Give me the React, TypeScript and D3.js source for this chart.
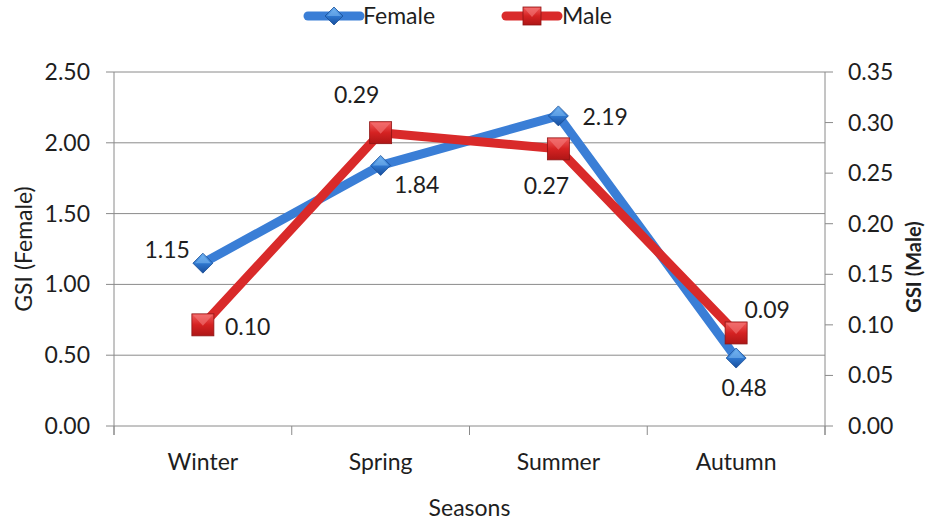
import React from "react";
import * as d3 from "d3";

// Seasonal gonadosomatic index, two series on separate y axes
const seasons = ["Winter", "Spring", "Summer", "Autumn"];
const femaleGSI = [1.15, 1.84, 2.19, 0.48];
const maleGSI = [0.1, 0.29, 0.274, 0.092];
const leftTicks = [0, 0.5, 1.0, 1.5, 2.0, 2.5];
const rightTicks = [0, 0.05, 0.1, 0.15, 0.2, 0.25, 0.3, 0.35];

// label placement relative to each marker: [dx, dy, anchor]
const femaleLabelPos: [number, number, string][] = [
  [-13, -13, "end"],
  [36, 19, "middle"],
  [24, 1, "start"],
  [8, 30, "middle"],
];
const maleLabelPos: [number, number, string][] = [
  [22, 2, "start"],
  [-24, -38, "middle"],
  [-12, 37, "middle"],
  [31, -23, "middle"],
];

const W = 930;
const H = 525;
const M = { left: 114, right: 825, top: 72, bottom: 426 };
const FONT = "Lato, 'Open Sans', sans-serif";
const FS = 23;
const BLUE = "#3A7ED6";
const RED = "#D92A2A";
const GRID = "#8A8A8A";
const INK = "#1e1e1e";

export default function App() {
  const x = d3.scaleBand<string>().domain(seasons).range([M.left, M.right]);
  const yL = d3.scaleLinear().domain([0, 2.5]).range([M.bottom, M.top]);
  const yR = d3.scaleLinear().domain([0, 0.35]).range([M.bottom, M.top]);
  const cx = (s: string) => (x(s) as number) + x.bandwidth() / 2;

  const lineF = d3
    .line<number>()
    .x((_, i) => cx(seasons[i]))
    .y((d) => yL(d));
  const lineM = d3
    .line<number>()
    .x((_, i) => cx(seasons[i]))
    .y((d) => yR(d));

  const diamond = (px: number, py: number, r = 10) =>
    `M${px},${py - r}L${px + r},${py}L${px},${py + r}L${px - r},${py}Z`;

  const Diamond = ({ px, py, r = 10 }: { px: number; py: number; r?: number }) => (
    <g>
      <path d={diamond(px, py, r)} fill="url(#diaGrad)" stroke="#1B4F97" strokeWidth={0.8} />
      <path
        d={`M${px},${py - r + 2}L${px + r - 2},${py}L${px - r + 2},${py}Z`}
        fill="#7FBCF2"
        opacity={0.55}
      />
    </g>
  );

  const Square = ({ px, py, s = 22 }: { px: number; py: number; s?: number }) => (
    <g>
      <rect x={px - s / 2} y={py - s / 2} width={s} height={s} fill="url(#sqGrad)" stroke="#8E1313" strokeWidth={0.8} />
      <path
        d={`M${px - s / 2 + 1},${py - s / 2 + 1}L${px + s / 2 - 1},${py - s / 2 + 1}L${px},${py + 1}Z`}
        fill="#F37A7A"
        opacity={0.6}
      />
    </g>
  );

  const bandTicks = seasons.map((s) => x(s) as number).concat([M.right]);

  return (
    <svg
      width={W}
      height={H}
      style={{ position: "absolute", left: 0, top: 0, background: "#fff" }}
      fontFamily={FONT}
    >
      <defs>
        <linearGradient id="diaGrad" x1="0" y1="0" x2="0" y2="1">
          <stop offset="0" stopColor="#6DB0F0" />
          <stop offset="0.5" stopColor="#2F78D0" />
          <stop offset="1" stopColor="#184E9C" />
        </linearGradient>
        <linearGradient id="sqGrad" x1="0" y1="0" x2="0" y2="1">
          <stop offset="0" stopColor="#F25C5C" />
          <stop offset="0.5" stopColor="#D52222" />
          <stop offset="1" stopColor="#AE1616" />
        </linearGradient>
      </defs>

      {/* horizontal gridlines */}
      {leftTicks.map((t) => (
        <line key={t} x1={M.left} x2={M.right} y1={yL(t)} y2={yL(t)} stroke={GRID} strokeWidth={1} />
      ))}

      {/* left axis */}
      <line x1={M.left} x2={M.left} y1={M.top} y2={M.bottom + 9} stroke={GRID} />
      {leftTicks.map((t) => (
        <g key={t}>
          <line x1={M.left - 8} x2={M.left} y1={yL(t)} y2={yL(t)} stroke={GRID} />
          <text x={M.left - 24} y={yL(t)} dy="0.35em" textAnchor="end" fontSize={FS} fill={INK}>
            {t.toFixed(2)}
          </text>
        </g>
      ))}

      {/* right axis */}
      <line x1={M.right} x2={M.right} y1={M.top} y2={M.bottom + 9} stroke={GRID} />
      {rightTicks.map((t) => (
        <g key={t}>
          <line x1={M.right} x2={M.right + 8} y1={yR(t)} y2={yR(t)} stroke={GRID} />
          <text x={M.right + 23} y={yR(t)} dy="0.35em" textAnchor="start" fontSize={FS} fill={INK}>
            {t.toFixed(2)}
          </text>
        </g>
      ))}

      {/* bottom axis ticks and categories */}
      {bandTicks.map((bx, i) => (
        <line key={i} x1={bx} x2={bx} y1={M.bottom} y2={M.bottom + 9} stroke={GRID} />
      ))}
      {seasons.map((s) => (
        <text key={s} x={cx(s)} y={462} dy="0.35em" textAnchor="middle" fontSize={FS} fill={INK}>
          {s}
        </text>
      ))}

      {/* axis titles */}
      <text x={(M.left + M.right) / 2} y={508} dy="0.35em" textAnchor="middle" fontSize={FS} fill={INK}>
        Seasons
      </text>
      <text
        transform={`translate(24,${(M.top + M.bottom) / 2}) rotate(-90)`}
        dy="0.35em"
        textAnchor="middle"
        fontSize={FS}
        fill={INK}
      >
        GSI (Female)
      </text>
      <text
        transform={`translate(914,${(M.top + M.bottom) / 2 + 18}) rotate(-90)`}
        dy="0.35em"
        textAnchor="middle"
        fontSize={20}
        fontWeight="bold"
        fill={INK}
      >
        GSI (Male)
      </text>

      {/* female series */}
      <path d={lineF(femaleGSI) as string} fill="none" stroke={BLUE} strokeWidth={9} strokeLinejoin="round" />
      {femaleGSI.map((v, i) => (
        <Diamond key={i} px={cx(seasons[i])} py={yL(v)} />
      ))}

      {/* male series */}
      <path d={lineM(maleGSI) as string} fill="none" stroke={RED} strokeWidth={9} strokeLinejoin="round" />
      {maleGSI.map((v, i) => (
        <Square key={i} px={cx(seasons[i])} py={yR(v)} />
      ))}

      {/* data labels */}
      {femaleGSI.map((v, i) => {
        const [dx, dy, anchor] = femaleLabelPos[i];
        return (
          <text key={i} x={cx(seasons[i]) + dx} y={yL(v) + dy} dy="0.35em" textAnchor={anchor as any} fontSize={FS} fill={INK}>
            {v.toFixed(2)}
          </text>
        );
      })}
      {maleGSI.map((v, i) => {
        const [dx, dy, anchor] = maleLabelPos[i];
        return (
          <text key={i} x={cx(seasons[i]) + dx} y={yR(v) + dy} dy="0.35em" textAnchor={anchor as any} fontSize={FS} fill={INK}>
            {v.toFixed(2)}
          </text>
        );
      })}

      {/* legend */}
      <g>
        <line x1={308} x2={360} y1={16} y2={16} stroke={BLUE} strokeWidth={9} strokeLinecap="round" />
        <Diamond px={334} py={16} r={9} />
        <text x={363} y={16} dy="0.35em" fontSize={FS} fill={INK}>
          Female
        </text>
        <line x1={506} x2={558} y1={16} y2={16} stroke={RED} strokeWidth={9} strokeLinecap="round" />
        <Square px={532} py={16} s={18} />
        <text x={562} y={16} dy="0.35em" fontSize={FS} fill={INK}>
          Male
        </text>
      </g>
    </svg>
  );
}
